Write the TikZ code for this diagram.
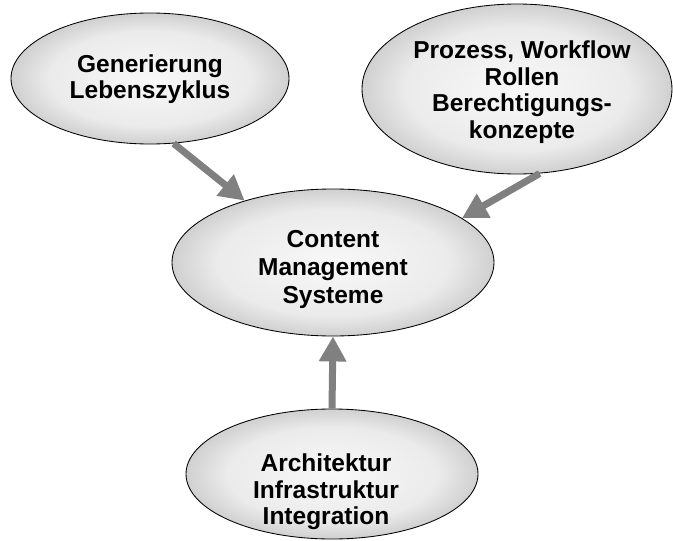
\documentclass[tikz,border=0pt]{standalone}
\usepackage{fontspec}
\setmainfont{Liberation Sans}
\usetikzlibrary{shapes.geometric,arrows.meta}
\definecolor{arrowgray}{HTML}{808080}
\definecolor{bubblein}{HTML}{F8F8F8}
\definecolor{bubblemid}{HTML}{EBEBEB}
\definecolor{bubbleout}{HTML}{D0D0D0}
% soft grey fill, light in the middle and darkening towards the rim
\pgfdeclareradialshading{bubbleshade}{\pgfpoint{0bp}{0bp}}{%
  color(0bp)=(bubblein); color(18bp)=(bubblemid);
  color(25bp)=(bubbleout); color(50bp)=(bubbleout)}
\begin{document}
\begin{tikzpicture}[x=1pt,y=-1pt,
  bubble/.style={ellipse, draw=black, line width=0.85pt, inner sep=0pt,
    shading=bubbleshade},
  caption/.style={inner sep=0pt, align=center,
    font=\bfseries\fontsize{24.5}{26.6}\selectfont},
  link/.style={draw=arrowgray, line width=7pt,
    -{Triangle[width=26pt,length=25pt]}}]
\useasboundingbox (0,0) rectangle (673,541);

% topic bubbles
\node[bubble, minimum width=278pt, minimum height=131pt] (gen)  at (150,78.5) {};
\node[bubble, minimum width=310pt, minimum height=170pt] (proz) at (517,89) {};
\node[bubble, minimum width=322pt, minimum height=147pt] (cms)  at (333,262.5) {};
\node[bubble, minimum width=292pt, minimum height=130pt] (arch) at (332,474) {};

% labels
\node[caption] (gentxt)  at (150,79) {Generierung\\Lebenszyklus};
\node[caption] (proztxt) at (522,92) {Prozess, Workflow\\Rollen\\Berechtigungs-\\konzepte};
\node[caption, font=\bfseries\fontsize{24.5}{28}\selectfont] (cmstxt) at (333,269)
  {Content\\Management\\Systeme};
\node[caption] (archtxt) at (326,492) {Architektur\\Infrastruktur\\Integration};

% connectors into the central bubble
\draw[link] (gen.-70) -- (cms.145);
\draw[link] (proz.-75) -- (cms.19);
\draw[link] (arch.north) -- (cms.south);
\end{tikzpicture}
\end{document}
